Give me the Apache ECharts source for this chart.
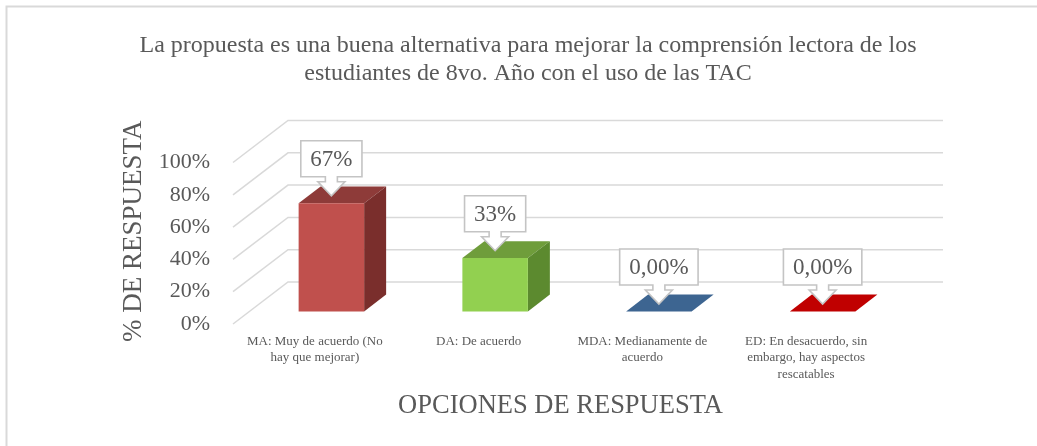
<!DOCTYPE html>
<html>
<head>
<meta charset="utf-8">
<script src="https://cdn.jsdelivr.net/npm/echarts@6/dist/echarts.min.js"></script>
<style>
  html, body { margin: 0; padding: 0; background: #fff; }
  #main { width: 1037px; height: 446px; }
</style>
</head>
<body>
<div id="main"></div>
<script>
var titleText = 'La propuesta es una buena alternativa para mejorar la comprensión lectora de los\nestudiantes de 8vo. Año con el uso de las TAC';
var categories = [
  'MA: Muy de acuerdo (No\nhay que mejorar)',
  'DA: De acuerdo',
  'MDA: Medianamente de\nacuerdo',
  'ED: En desacuerdo, sin\nembargo, hay aspectos\nrescatables'
];
var values = [0.67, 0.33, 0, 0];
var valueLabels = ['67%', '33%', '0,00%', '0,00%'];
var yTicks = [0, 0.2, 0.4, 0.6, 0.8, 1];

var frontColors = ['#C0504D', '#92D050', '#4F81BD', '#C00000'];
var topColors = ['#8E3B39', '#6F9D3B', '#3D6591', '#C00000'];
var sideColors = ['#7A2E2C', '#5C8A2F', '#2F5077', '#950000'];

var FONT = '"Liberation Serif", "Times New Roman", serif';
var TXT = '#595959';
var depth = [55, -42];   // back wall offset (3d look)

var ctx = document.createElement('canvas').getContext('2d');
function textWidth(s, size) {
  ctx.font = size + 'px ' + FONT;
  return ctx.measureText(s).width;
}

function wallItem(params, api) {
  var cs = params.coordSys;
  var p = api.coord([0, api.value(1)]);
  var x0 = cs.x, y = p[1];
  return {
    type: 'polyline',
    shape: { points: [[x0, y], [x0 + depth[0], y + depth[1]], [x0 + cs.width + depth[0], y + depth[1]]] },
    style: { stroke: '#d9d9d9', lineWidth: 1.5, fill: null }
  };
}

function barItem(params, api) {
  var i = api.value(0);
  var v = api.value(1);
  var base = api.coord([i, 0]);
  var top = api.coord([i, v]);
  var w = api.size([1, 0])[0] * 0.4;
  var ox = depth[0] * 0.3, oy = depth[1] * 0.3;
  var sx = depth[0] * 0.4, sy = depth[1] * 0.4;
  var fx0 = base[0] - w / 2 + ox, fx1 = fx0 + w;
  var fyb = base[1] + oy, fyt = top[1] + oy;

  var children = [
    { type: 'polygon', shape: { points: [[fx0, fyt], [fx1, fyt], [fx1 + sx, fyt + sy], [fx0 + sx, fyt + sy]] },
      style: { fill: topColors[i] } },
    { type: 'polygon', shape: { points: [[fx1, fyt], [fx1 + sx, fyt + sy], [fx1 + sx, fyb + sy], [fx1, fyb]] },
      style: { fill: sideColors[i] } },
    { type: 'rect', shape: { x: fx0, y: fyt, width: w, height: fyb - fyt },
      style: { fill: frontColors[i] } }
  ];

  // callout label
  var label = valueLabels[i];
  var tx = base[0] + ox;
  var ty = fyt + sy / 2 + 1;
  var bw = textWidth(label, 23) + 19;
  var B = ty - 19, T = B - 36, L = tx - bw / 2, R = tx + bw / 2;
  children.push({
    type: 'polygon',
    shape: { points: [[L, T], [R, T], [R, B], [tx + 6, B], [tx + 6, B + 5], [tx + 13.5, B + 5], [tx, ty],
                      [tx - 13.5, B + 5], [tx - 6, B + 5], [tx - 6, B], [L, B]] },
    style: { fill: '#fff', stroke: '#c4c4c4', lineWidth: 1.6 }
  });
  children.push({
    type: 'text',
    style: { text: label, x: tx, y: (T + B) / 2 + 1, align: 'center', verticalAlign: 'middle',
             font: '23px ' + FONT, fill: TXT }
  });
  return { type: 'group', children: children };
}

var myChart = echarts.init(document.getElementById('main'));
var option = {
  animation: false,
  backgroundColor: '#fff',
  title: {
    text: titleText,
    left: 523,
    top: 27,
    textAlign: 'center',
    textStyle: { fontFamily: FONT, fontSize: 24, fontWeight: 'normal', color: TXT, lineHeight: 28 }
  },
  graphic: [{
    type: 'polyline',
    shape: { points: [[6.5, 446], [6.5, 6.5], [1037, 6.5]] },
    style: { stroke: '#d9d9d9', lineWidth: 2, fill: null }
  }],
  grid: { left: 233, right: 149, top: 162.5, bottom: 122 },
  xAxis: {
    type: 'category',
    data: categories,
    axisLine: { show: false },
    axisTick: { show: false },
    axisLabel: { interval: 0, margin: 9, fontFamily: FONT, fontSize: 13, lineHeight: 16.5, color: TXT },
    name: 'OPCIONES DE RESPUESTA',
    nameLocation: 'middle',
    nameGap: 69,
    nameTextStyle: { fontFamily: FONT, fontSize: 26.5, color: TXT }
  },
  yAxis: {
    type: 'value',
    min: 0,
    max: 1,
    interval: 0.2,
    splitLine: { show: false },
    axisLine: { show: false },
    axisTick: { show: false },
    axisLabel: {
      margin: 23, fontFamily: FONT, fontSize: 22, color: TXT, padding: [6, 0, 0, 0],
      formatter: function (v) { return Math.round(v * 100) + '%'; }
    },
    name: '% DE RESPUESTA',
    nameLocation: 'middle',
    nameRotate: 90,
    nameGap: 86,
    nameTextStyle: { fontFamily: FONT, fontSize: 27, color: TXT, padding: [0, 0, 0, 24] }
  },
  series: [
    {
      type: 'custom',
      renderItem: wallItem,
      silent: true,
      data: yTicks.map(function (t) { return [0, t]; }),
      encode: { x: 0, y: 1 }
    },
    {
      type: 'custom',
      renderItem: barItem,
      data: values.map(function (v, i) { return [i, v]; }),
      encode: { x: 0, y: 1 }
    }
  ]
};
myChart.setOption(option);
</script>
</body>
</html>
